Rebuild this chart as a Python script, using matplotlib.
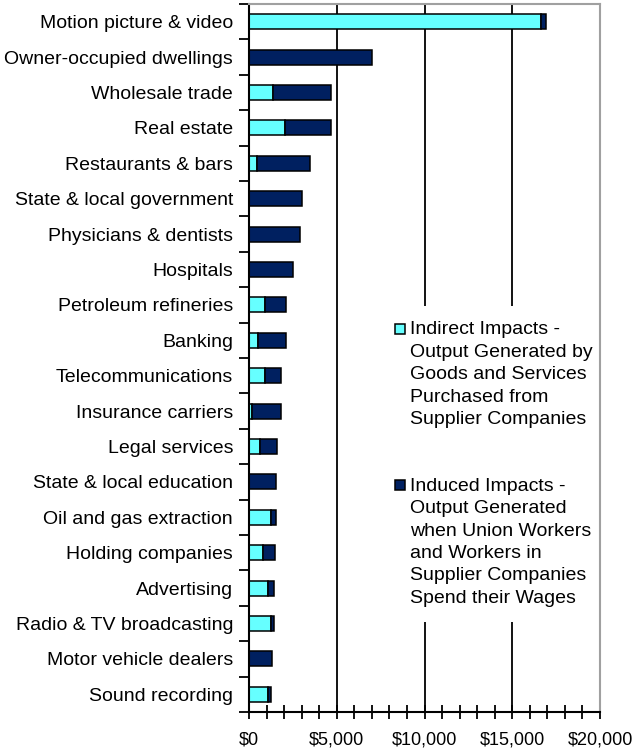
import matplotlib
matplotlib.use("Agg")
import matplotlib.pyplot as plt
import numpy as np
from matplotlib.lines import Line2D
from matplotlib.ticker import MultipleLocator, FuncFormatter

plt.rcParams['font.family'] = ['Liberation Sans', 'DejaVu Sans']

industries = [
    "Motion picture & video", "Owner-occupied dwellings", "Wholesale trade",
    "Real estate", "Restaurants & bars", "State & local government",
    "Physicians & dentists", "Hospitals", "Petroleum refineries", "Banking",
    "Telecommunications", "Insurance carriers", "Legal services",
    "State & local education", "Oil and gas extraction", "Holding companies",
    "Advertising", "Radio & TV broadcasting", "Motor vehicle dealers",
    "Sound recording",
]
indirect = [16620, 0, 1370, 2030, 460, 0, 0, 0, 900, 530,
            900, 190, 610, 0, 1240, 800, 1100, 1240, 0, 1080]
induced = [280, 7000, 3320, 2660, 3040, 3000, 2900, 2530, 1210, 1580,
           940, 1650, 990, 1520, 300, 680, 330, 210, 1310, 160]

legend_labels = [
    "Indirect Impacts -\nOutput Generated by\nGoods and Services\nPurchased from\nSupplier Companies",
    "Induced Impacts -\nOutput Generated\nwhen Union Workers\nand Workers in\nSupplier Companies\nSpend their Wages",
]

cyan = "#66FFFF"
navy = "#002060"

fig = plt.figure(figsize=(6.36, 7.5), dpi=100)
ax = fig.add_axes([249/636, 1-712/750, (600-249)/636, (712-4)/750])

y = np.arange(len(industries))
left2 = np.array(indirect)
ax.barh(y, indirect, height=0.42, color=cyan, edgecolor="black", linewidth=1.1, zorder=3)
ax.barh(y, induced, left=left2, height=0.42, color=navy, edgecolor="black", linewidth=1.1, zorder=3)

ax.set_xlim(0, 20000)
ax.set_ylim(len(industries)-0.5, -0.5)
ax.set_yticks(y)
ax.set_yticklabels(industries, fontsize=14)
ax.set_yticks(np.arange(-0.5, len(industries)), minor=True)
ax.tick_params(axis='y', which='major', length=0, pad=11.5)
ax.tick_params(axis='y', which='minor', length=7, width=1.3, direction='out')

ax.xaxis.set_major_locator(MultipleLocator(5000))
ax.xaxis.set_minor_locator(MultipleLocator(1000))
ax.xaxis.set_major_formatter(FuncFormatter(lambda v, p: "${:,.0f}".format(v)))
ax.tick_params(axis='x', which='both', direction='inout', length=10, width=1.3, labelsize=13, pad=9)

ax.grid(axis='x', which='major', color='black', linewidth=1.3, zorder=1)
ax.set_axisbelow(True)

for s in ['left', 'bottom']:
    ax.spines[s].set_color('black')
    ax.spines[s].set_linewidth(1.5)
for s in ['top', 'right']:
    ax.spines[s].set_color('#A0A0A0')
    ax.spines[s].set_linewidth(1.5)
for s in ax.spines.values():
    s.set_zorder(6)

handles = [Line2D([], [], ls='none', marker='s', markersize=7, markerfacecolor=cyan,
                  markeredgecolor='black', markeredgewidth=1.1),
           Line2D([], [], ls='none', marker='s', markersize=7, markerfacecolor=navy,
                  markeredgecolor='black', markeredgewidth=1.1)]
leg = ax.legend(handles, legend_labels, loc='upper left', bbox_to_anchor=(0.371, 0.574),
                fontsize=14, frameon=True, fancybox=False, framealpha=1,
                facecolor='white', edgecolor='none', handlelength=0.5, handleheight=0.9,
                handletextpad=0.3, labelspacing=2.55, borderpad=0.8, borderaxespad=0)
for t in leg.get_texts():
    t.set_linespacing(1.42)
for col in leg._legend_handle_box.get_children():
    for row in col.get_children():
        row.align = "top"
leg.set_zorder(5)

fig.savefig("out.png", dpi=100)
